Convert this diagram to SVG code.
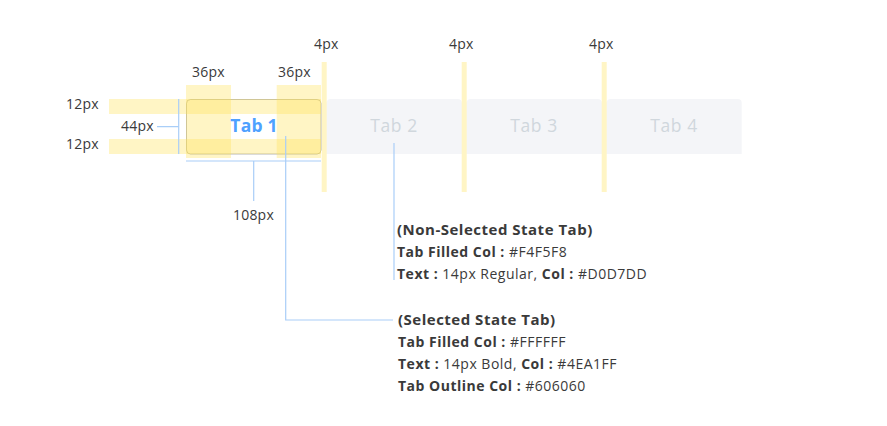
<svg xmlns="http://www.w3.org/2000/svg" width="887" height="426" viewBox="0 0 887 426">
<style>
.bg{fill:#ffffff}
.hl{fill:#FFE35A;fill-opacity:0.35}
.tab{fill:#F4F5F8}
.lbl{font-family:"Open Sans","Liberation Sans",sans-serif;font-size:14px;fill:#3a3a3a;letter-spacing:0.2px}
.tabtxt{font-family:"Open Sans","Liberation Sans",sans-serif;font-size:17.5px;fill:#D0D7DD;text-anchor:middle;letter-spacing:0.6px}
.sel{font-weight:700;fill:#4EA1FF;letter-spacing:0.2px}
.note{font-family:"Open Sans","Liberation Sans",sans-serif;font-size:14px;fill:#3a3a3a;letter-spacing:0.5px}
.head{font-size:15px;font-weight:700}
.b{font-weight:700}
.conn{fill:none;stroke:#A9CEF8;stroke-width:1.2}
</style>
<rect class="bg" width="887" height="426"/>
<g id="tab2"><path class="tab" d="M326.7,154 V103 Q326.7,99 330.7,99 H457.7 Q461.7,99 461.7,103 V154 Z"/><text class="tabtxt" x="394" y="132">Tab 2</text></g>
<g id="tab3"><path class="tab" d="M466.7,154 V103 Q466.7,99 470.7,99 H597.7 Q601.7,99 601.7,103 V154 Z"/><text class="tabtxt" x="534" y="132">Tab 3</text></g>
<g id="tab4"><path class="tab" d="M606.7,154 V103 Q606.7,99 610.7,99 H737.7 Q741.7,99 741.7,103 V154 Z"/><text class="tabtxt" x="674" y="132">Tab 4</text></g>
<g id="tab1">
<rect x="186.5" y="99.5" width="134.5" height="54.5" rx="4" fill="#ffffff" stroke="#606060" stroke-opacity="0.45" stroke-width="1"/>
</g>
<g id="highlights">
<rect class="hl" x="109" y="99" width="212" height="15"/>
<rect class="hl" x="109" y="139" width="212" height="15"/>
<rect class="hl" x="186" y="85" width="45" height="73"/>
<rect class="hl" x="276.7" y="85" width="44.3" height="73"/>
<rect class="hl" x="321.7" y="62" width="5" height="130"/>
<rect class="hl" x="461.7" y="62" width="5" height="130"/>
<rect class="hl" x="601.7" y="62" width="5" height="130"/>
</g>
<text class="tabtxt sel" x="254" y="132">Tab 1</text>
<g id="connectors">
<path class="conn" d="M178.7,99 V154 M157,126.7 H178.7"/>
<path class="conn" d="M186,161 H321 M253.7,161 V201"/>
<path class="conn" d="M285.7,136 V320 H393"/>
<path class="conn" d="M394,143 V280"/>
</g>
<g id="labels">
<text class="lbl" x="66" y="109">12px</text>
<text class="lbl" x="66" y="149">12px</text>
<text class="lbl" x="121" y="131">44px</text>
<text class="lbl" x="192" y="77">36px</text>
<text class="lbl" x="278" y="77">36px</text>
<text class="lbl" x="314" y="49">4px</text>
<text class="lbl" x="449" y="49">4px</text>
<text class="lbl" x="589" y="49">4px</text>
<text class="lbl" x="233" y="220">108px</text>
</g>
<g id="note-nonselected">
<text class="note head" x="397" y="235">(Non-Selected State Tab)</text>
<text class="note" x="397" y="257"><tspan class="b">Tab Filled Col :</tspan> #F4F5F8</text>
<text class="note" x="397" y="279"><tspan class="b">Text :</tspan> 14px Regular, <tspan class="b">Col :</tspan> #D0D7DD</text>
</g>
<g id="note-selected">
<text class="note head" x="398" y="325">(Selected State Tab)</text>
<text class="note" x="398" y="347"><tspan class="b">Tab Filled Col :</tspan> #FFFFFF</text>
<text class="note" x="398" y="369"><tspan class="b">Text :</tspan> 14px Bold, <tspan class="b">Col :</tspan> #4EA1FF</text>
<text class="note" x="398" y="391"><tspan class="b">Tab Outline Col :</tspan> #606060</text>
</g>
</svg>
